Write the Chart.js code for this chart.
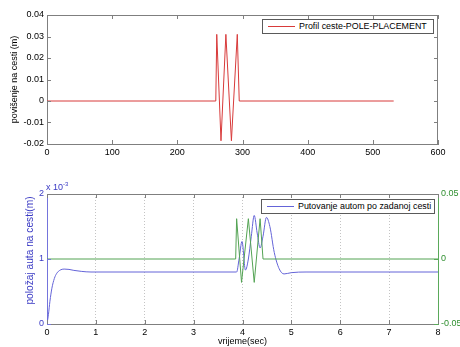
<!DOCTYPE html>
<html>
<head>
<meta charset="utf-8">
<script src="https://cdn.jsdelivr.net/npm/chart.js@4.4.1/dist/chart.umd.min.js"></script>
<style>
  body { margin: 0; background: #fff; font-family: "Liberation Sans", Arial, sans-serif; }
  #wrap { position: relative; width: 460px; height: 347px; overflow: hidden; }
  canvas { position: absolute; left: 0; }
  .legend { position: absolute; background: #fff; border: 1px solid #5a5a5a; box-sizing: border-box;
            font-size: 8.9px; color: #000; height: 15px; line-height: 13px; white-space: nowrap;
            font-variant-ligatures: none; }
  .legend i { display: inline-block; width: 27px; border-top: 1px solid; vertical-align: middle; margin: 0 4px 0 5px; }
  .exp { position: absolute; left: 46px; top: 181px; font-size: 9px; color: #3a3ac4; }
  .exp sup { font-size: 6px; }
</style>
</head>
<body>
<div id="wrap">
  <canvas id="top" width="460" height="175" style="top:0"></canvas>
  <canvas id="bottom" width="460" height="172" style="top:175px"></canvas>
  <div class="legend" style="left:262px;top:19px;width:172px"><i style="border-color:#d83a3a"></i>Profil ceste-POLE-PLACEMENT</div>
  <div class="legend" style="left:261px;top:199px;width:174px"><i style="border-color:#6464d8"></i>Putovanje autom po zadanoj cesti</div>
  <div class="exp">x 10<sup>-3</sup></div>
</div>
<script>
/* ---- data ---- */
// top: road profile vs distance
const roadX = [0, 259, 260.5, 267, 274.5, 283, 292, 295, 532];
const roadY = [0, 0, 0.031, -0.0185, 0.031, -0.0185, 0.031, 0, 0];

// bottom: car position (x 10^-3 m) vs time
const carT = [0, 0.03, 0.06, 0.1, 0.15, 0.2, 0.27, 0.35, 0.45, 0.55, 0.7, 0.9,
  3.88, 3.93, 3.99, 4.06, 4.12, 4.18, 4.24, 4.3, 4.36, 4.42, 4.49, 4.56, 4.65, 4.75, 4.85, 5.0, 5.3, 8];
const carPos = [0, 0.15, 0.35, 0.55, 0.7, 0.78, 0.83, 0.845, 0.84, 0.825, 0.81, 0.8,
  0.8, 1.0, 1.27, 0.83, 1.0, 1.35, 1.67, 1.4, 1.17, 1.35, 1.64, 1.5, 1.1, 0.85, 0.77, 0.79, 0.8, 0.8];

// bottom: road profile (m) vs time, right axis
const roadT = [0, 3.86, 3.88, 3.98, 4.12, 4.24, 4.36, 4.42, 8];
const roadSig = [0, 0, 0.031, -0.018, 0.031, -0.018, 0.031, 0, 0];

const topXTicks = { min: 0, max: 600, step: 100 };
const topYTicks = { min: -0.02, max: 0.04, step: 0.01 };
const botXTicks = { min: 0, max: 8, step: 1 };
const botYTicks = { min: 0, max: 2, step: 1 };
const botY1Ticks = { min: -0.05, max: 0.05, step: 0.05 };

const AXIS = "#7f7f7f";
const FONT = { family: '"Liberation Sans", Arial, sans-serif', size: 9 };

const pts = (xs, ys) => xs.map((x, i) => ({ x, y: ys[i] }));
const fmt = (v) => { const r = Math.round(v * 100) / 100; return r === 0 ? "0" : r.toFixed(2); };

/* MATLAB-style box: inner tick marks and closing edges */
const frame = {
  id: "frame",
  afterDatasetsDraw(chart, args, opts) {
    const { ctx, chartArea: a, scales } = chart;
    const len = 4;
    ctx.save();
    ctx.lineWidth = 1;
    for (const s of Object.values(scales)) {
      ctx.strokeStyle = s.options.border.color;
      ctx.beginPath();
      for (const t of s.ticks) {
        const p = Math.round(s.getPixelForValue(t.value)) + 0.5;
        if (s.isHorizontal()) {
          ctx.moveTo(p, a.bottom); ctx.lineTo(p, a.bottom - len);
          ctx.moveTo(p, a.top); ctx.lineTo(p, a.top + len);
        } else {
          if (s.position === "left") { ctx.moveTo(a.left, p); ctx.lineTo(a.left + len, p); }
          if (s.position === "right" || opts.mirrorY) { ctx.moveTo(a.right, p); ctx.lineTo(a.right - len, p); }
        }
      }
      ctx.stroke();
    }
    ctx.strokeStyle = AXIS;
    ctx.beginPath();
    ctx.moveTo(a.left, Math.round(a.top) + 0.5); ctx.lineTo(a.right, Math.round(a.top) + 0.5);
    if (opts.mirrorY) { ctx.moveTo(Math.round(a.right) - 0.5, a.top); ctx.lineTo(Math.round(a.right) - 0.5, a.bottom); }
    ctx.stroke();
    ctx.restore();
  },
};

new Chart(document.getElementById("top"), {
  type: "line",
  data: {
    datasets: [{
      data: pts(roadX, roadY),
      borderColor: "#d83a3a",
      borderWidth: 1,
      pointRadius: 0,
      tension: 0,
    }],
  },
  options: {
    responsive: false,
    animation: false,
    layout: { padding: { top: 15, right: 22, left: 0, bottom: 0 } },
    plugins: { legend: { display: false }, tooltip: { enabled: false }, frame: { mirrorY: true } },
    scales: {
      x: {
        type: "linear", min: topXTicks.min, max: topXTicks.max,
        ticks: { stepSize: topXTicks.step, font: FONT, color: "#000", padding: 3, maxRotation: 0 },
        grid: { display: false, drawTicks: false },
        border: { color: AXIS },
        afterFit: (s) => { s.height = 31; },
      },
      y: {
        min: topYTicks.min, max: topYTicks.max,
        ticks: { stepSize: topYTicks.step, font: FONT, color: "#000", padding: 3, callback: fmt },
        grid: { display: false, drawTicks: false },
        border: { color: AXIS },
        title: { display: true, text: "povišenje na cesti (m)", font: FONT, color: "#000", padding: { top: 9, bottom: 0 } },
        afterFit: (s) => { s.width = 47; },
      },
    },
  },
  plugins: [frame],
});

new Chart(document.getElementById("bottom"), {
  type: "line",
  data: {
    datasets: [
      {
        data: pts(roadT, roadSig),
        yAxisID: "y1",
        borderColor: "#53a353",
        borderWidth: 1,
        pointRadius: 0,
        tension: 0,
      },
      {
        data: pts(carT, carPos),
        yAxisID: "y",
        borderColor: "#6464d8",
        borderWidth: 1,
        pointRadius: 0,
        cubicInterpolationMode: "monotone",
      },
    ],
  },
  options: {
    responsive: false,
    animation: false,
    layout: { padding: { top: 19, right: 0, left: 0, bottom: 0 } },
    plugins: { legend: { display: false }, tooltip: { enabled: false }, frame: { mirrorY: false } },
    scales: {
      x: {
        type: "linear", min: botXTicks.min, max: botXTicks.max,
        ticks: { stepSize: botXTicks.step, font: FONT, color: "#000", padding: 3, maxRotation: 0 },
        grid: {
          drawTicks: false,
          color: (c) => (c.tick && (c.tick.value === botXTicks.min || c.tick.value === botXTicks.max) ? "rgba(0,0,0,0)" : "#c4c4c4"),
        },
        border: { color: AXIS, dash: [1, 2] },
        title: { display: true, text: "vrijeme(sec)", font: FONT, color: "#000", padding: 0 },
        afterFit: (s) => { s.height = 23; },
      },
      y: {
        position: "left",
        min: botYTicks.min, max: botYTicks.max,
        ticks: { stepSize: botYTicks.step, font: FONT, color: "#3a3ac4", padding: 3 },
        grid: { display: false, drawTicks: false },
        border: { color: "#7474dc" },
        // leading spaces nudge the rotated label upward, as in the original
        title: { display: true, text: "      položaj auta na cesti(m)", font: { ...FONT, size: 10.2 }, color: "#3a3ac4", padding: { top: 24, bottom: 0 } },
        afterFit: (s) => { s.width = 47; },
      },
      y1: {
        position: "right",
        min: botY1Ticks.min, max: botY1Ticks.max,
        ticks: { stepSize: botY1Ticks.step, font: FONT, color: "#2f8f2f", padding: 3, callback: fmt },
        grid: { display: false, drawTicks: false },
        border: { color: "#5aaa5a" },
        afterFit: (s) => { s.width = 22; },
      },
    },
  },
  plugins: [frame],
});
</script>
</body>
</html>
